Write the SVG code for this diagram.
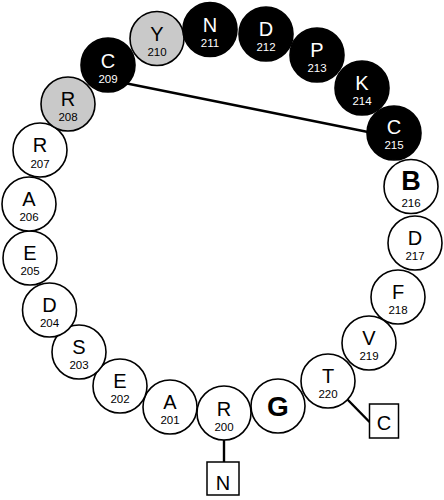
<svg xmlns="http://www.w3.org/2000/svg" width="444" height="500" viewBox="0 0 444 500">
<style>
.res circle{stroke:#000;stroke-width:1.6;fill:#fff}
.res.gray circle{fill:#c9c9c9}
.res.dark circle{fill:#000}
.aa{font-family:"Liberation Sans",Arial,sans-serif;font-size:20px;text-anchor:middle;fill:#000}
.num{font-family:"Liberation Sans",Arial,sans-serif;font-size:11.5px;text-anchor:middle;fill:#000}
.dark .aa,.dark .num{fill:#fff}
.bold{font-weight:bold;font-size:27px}
.term rect{fill:#fff;stroke:#000;stroke-width:1.5}
.conn line{stroke:#000;stroke-width:2.4;stroke-linecap:butt}
</style>
<rect width="444" height="500" fill="#fff"/>
<g id="connectors" class="conn">
<line x1="127" y1="83.5" x2="368" y2="132"/>
<line x1="347" y1="399" x2="369.5" y2="422"/>
<line x1="224" y1="439" x2="224" y2="462"/>
</g>
<g id="r200" class="res"><circle cx="224" cy="413" r="27"/><text class="aa" x="224" y="416">R</text><text class="num" x="224" y="431">200</text></g>
<g id="r201" class="res"><circle cx="170" cy="407" r="27"/><text class="aa" x="170" y="409">A</text><text class="num" x="170" y="424">201</text></g>
<g id="r202" class="res"><circle cx="120" cy="386" r="27"/><text class="aa" x="120" y="388">E</text><text class="num" x="120" y="403">202</text></g>
<g id="r203" class="res"><circle cx="79" cy="352" r="27"/><text class="aa" x="79" y="354">S</text><text class="num" x="79" y="369">203</text></g>
<g id="r204" class="res"><circle cx="49.5" cy="310" r="27"/><text class="aa" x="49.5" y="312">D</text><text class="num" x="49.5" y="327">204</text></g>
<g id="r205" class="res"><circle cx="30" cy="258" r="27"/><text class="aa" x="30" y="260">E</text><text class="num" x="30" y="275">205</text></g>
<g id="r206" class="res"><circle cx="29" cy="204" r="27"/><text class="aa" x="29" y="206">A</text><text class="num" x="29" y="221">206</text></g>
<g id="r207" class="res"><circle cx="40" cy="150" r="27"/><text class="aa" x="40" y="152">R</text><text class="num" x="40" y="167.5">207</text></g>
<g id="r208" class="res gray"><circle cx="68" cy="104" r="27"/><text class="aa" x="68" y="106">R</text><text class="num" x="68" y="121">208</text></g>
<g id="r209" class="res dark"><circle cx="108" cy="65" r="27"/><text class="aa" x="108" y="68">C</text><text class="num" x="108" y="83">209</text></g>
<g id="r210" class="res gray"><circle cx="157" cy="38.5" r="27"/><text class="aa" x="157" y="40.5">Y</text><text class="num" x="157" y="55.5">210</text></g>
<g id="r211" class="res dark"><circle cx="210" cy="29.5" r="27"/><text class="aa" x="210" y="31.5">N</text><text class="num" x="210" y="46.5">211</text></g>
<g id="r212" class="res dark"><circle cx="266" cy="34" r="27"/><text class="aa" x="266" y="35.5">D</text><text class="num" x="266" y="51">212</text></g>
<g id="r213" class="res dark"><circle cx="317" cy="55" r="27"/><text class="aa" x="317" y="57">P</text><text class="num" x="317" y="72">213</text></g>
<g id="r214" class="res dark"><circle cx="362" cy="88" r="27"/><text class="aa" x="362" y="89.5">K</text><text class="num" x="362" y="104.5">214</text></g>
<g id="r215" class="res dark"><circle cx="394" cy="133" r="27"/><text class="aa" x="394" y="134">C</text><text class="num" x="394" y="149">215</text></g>
<g id="r216" class="res"><circle cx="411" cy="186.5" r="27"/><text class="aa bold" x="411" y="190">B</text><text class="num" x="411" y="207">216</text></g>
<g id="r217" class="res"><circle cx="415" cy="243" r="27"/><text class="aa" x="415" y="245">D</text><text class="num" x="415" y="260">217</text></g>
<g id="r218" class="res"><circle cx="398" cy="297" r="27"/><text class="aa" x="398" y="299">F</text><text class="num" x="398" y="314">218</text></g>
<g id="r219" class="res"><circle cx="369" cy="343" r="27"/><text class="aa" x="369" y="345">V</text><text class="num" x="369" y="360">219</text></g>
<g id="r220" class="res"><circle cx="328" cy="381" r="27"/><text class="aa" x="328" y="383">T</text><text class="num" x="328" y="398">220</text></g>
<g id="g" class="res"><circle cx="278" cy="406" r="27"/><text class="aa bold" style="font-size:28px" x="278" y="416">G</text></g>
<g id="n-term" class="term"><rect x="207" y="462" width="32" height="33"/><text class="aa" x="223" y="490">N</text></g>
<g id="c-term" class="term"><rect x="369.5" y="404" width="29" height="34"/><text class="aa" x="384" y="430">C</text></g>
</svg>
